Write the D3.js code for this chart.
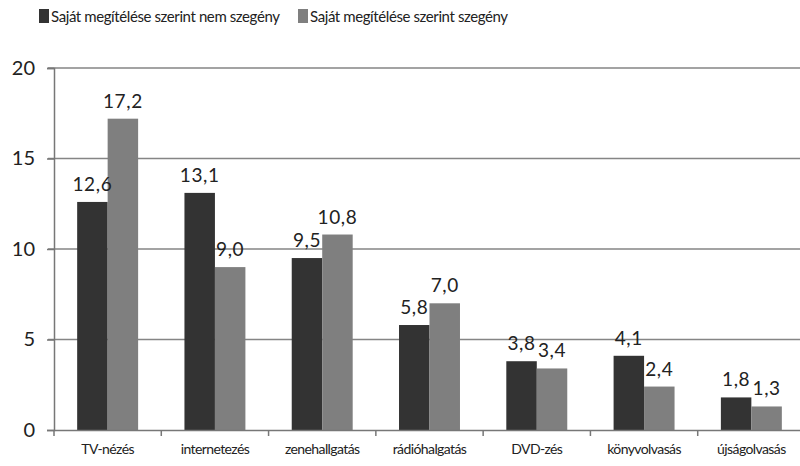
<!DOCTYPE html>
<html>
<head>
<meta charset="utf-8">
<script src="https://cdn.jsdelivr.net/npm/d3@7"></script>
<style>
  body { margin: 0; background: #fff; }
  svg { display: block; font-family: Lato, 'Open Sans', sans-serif; }
</style>
</head>
<body>
<svg></svg>
<script>
'use strict'

const categories = ['TV-nézés', 'internetezés', 'zenehallgatás', 'rádióhalgatás', 'DVD-zés', 'könyvolvasás', 'újságolvasás']
const seriesNames = ['Saját megítélése szerint nem szegény', 'Saját megítélése szerint szegény']
const nemSzegeny = [12.6, 13.1, 9.5, 5.8, 3.8, 4.1, 1.8]
const szegeny = [17.2, 9.0, 10.8, 7.0, 3.4, 2.4, 1.3]
const yTicks = [0, 5, 10, 15, 20]

const colors = ['#333333', '#7f7f7f']

const width = 800,
  height = 466
const margin = { top: 68, right: -5, bottom: 36, left: 54 }

const svg = d3.select('svg').attr('width', width).attr('height', height)

const x = d3
  .scaleBand()
  .domain(categories)
  .range([margin.left, width - margin.right])
  .paddingInner(0)
  .paddingOuter(0)

const x1 = d3
  .scaleBand()
  .domain([0, 1])
  .range([0, x.bandwidth()])
  .paddingOuter(0.76)
  .paddingInner(0)

const y = d3
  .scaleLinear()
  .domain([0, 20])
  .range([height - margin.bottom, margin.top])

// gridlines
svg
  .append('g')
  .selectAll('line')
  .data(yTicks.filter(d => d > 0))
  .enter()
  .append('line')
  .attr('x1', margin.left - 6)
  .attr('x2', width)
  .attr('y1', d => y(d))
  .attr('y2', d => y(d))
  .attr('stroke', '#858585')
  .attr('stroke-width', 1.5)

// bars
const series = [nemSzegeny, szegeny]
const groups = svg
  .append('g')
  .selectAll('g')
  .data(categories)
  .enter()
  .append('g')
  .attr('transform', d => 'translate(' + x(d) + ',0)')

groups
  .selectAll('rect')
  .data((d, i) => series.map((s, k) => ({ k: k, v: s[i] })))
  .enter()
  .append('rect')
  .attr('x', d => x1(d.k))
  .attr('y', d => y(d.v))
  .attr('width', x1.bandwidth())
  .attr('height', d => y(0) - y(d.v))
  .attr('fill', d => colors[d.k])

groups
  .selectAll('text')
  .data((d, i) => series.map((s, k) => ({ k: k, v: s[i] })))
  .enter()
  .append('text')
  .attr('x', d => x1(d.k) + x1.bandwidth() / 2)
  .attr('y', d => y(d.v) - 11)
  .attr('text-anchor', 'middle')
  .attr('font-size', 19)
  .attr('letter-spacing', 0.6)
  .attr('fill', '#222')
  .text(d => d3.format('.1f')(d.v).replace('.', ','))

// y axis
const yAxis = svg
  .append('g')
  .attr('transform', 'translate(' + margin.left + ',0)')
  .call(d3.axisLeft(y).tickValues(yTicks).tickSize(7).tickPadding(12))
yAxis.select('.domain').attr('stroke', '#777').attr('stroke-width', 1.5)
yAxis.selectAll('.tick line').attr('stroke', '#777').attr('stroke-width', 1.5)
yAxis.selectAll('text').attr('font-size', 20).attr('fill', '#222').attr('font-family', 'Lato, sans-serif')

// x axis
const xAxis = svg
  .append('g')
  .attr('transform', 'translate(0,' + y(0) + ')')
  .call(d3.axisBottom(x).tickSize(0).tickPadding(14))
xAxis.select('.domain').attr('stroke', '#777').attr('stroke-width', 1.5)
xAxis
  .selectAll('.tick text')
  .attr('font-size', 14)
  .attr('letter-spacing', -0.6)
  .attr('fill', '#222')
  .attr('font-family', 'Lato, sans-serif')

// small tick marks between categories
svg
  .append('g')
  .selectAll('line')
  .data(categories)
  .enter()
  .append('line')
  .attr('x1', d => x(d))
  .attr('x2', d => x(d))
  .attr('y1', y(0))
  .attr('y2', y(0) + 6)
  .attr('stroke', '#777')
  .attr('stroke-width', 1.5)

// legend
const legendX = [39, 298]
const legend = svg
  .append('g')
  .selectAll('g')
  .data(seriesNames)
  .enter()
  .append('g')
  .attr('transform', (d, i) => 'translate(' + legendX[i] + ',9)')

legend
  .append('rect')
  .attr('width', 10)
  .attr('height', 14)
  .attr('fill', (d, i) => colors[i])

legend
  .append('text')
  .attr('x', 12)
  .attr('y', 13)
  .attr('font-size', 15)
  .attr('letter-spacing', -0.4)
  .attr('fill', '#222')
  .text(d => d)
</script>
</body>
</html>
